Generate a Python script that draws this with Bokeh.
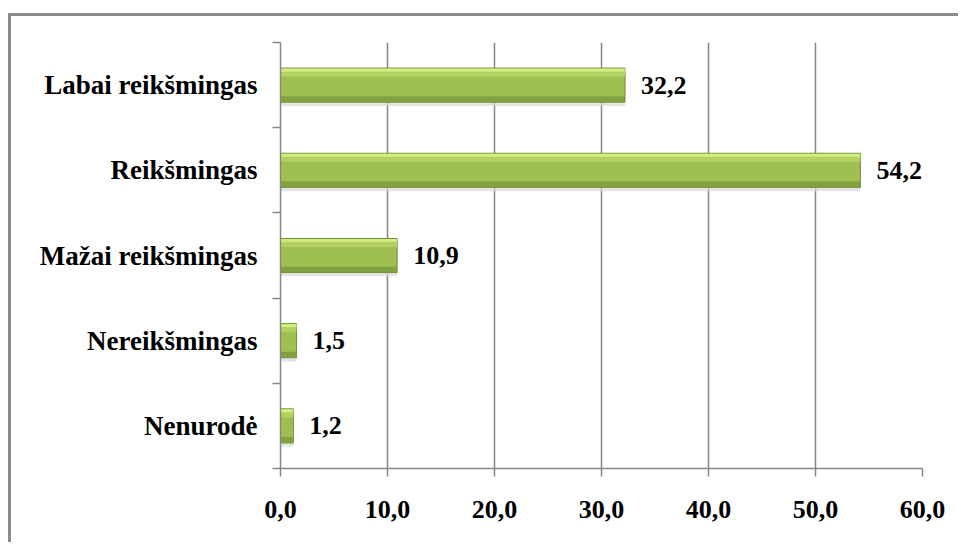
from bokeh.plotting import figure
from bokeh.models import FixedTicker, Range1d, ColumnDataSource, LabelSet
from bokeh.embed import file_html
from bokeh.resources import INLINE
from bokeh.core.properties import value

categories = ["Nenurodė", "Nereikšmingas", "Mažai reikšmingas", "Reikšmingas", "Labai reikšmingas"]
values = [1.2, 1.5, 10.9, 54.2, 32.2]
x_ticks = [0, 10, 20, 30, 40, 50, 60]
x_tick_labels = ["0,0", "10,0", "20,0", "30,0", "40,0", "50,0", "60,0"]

ypos = [i + 0.5 for i in range(len(categories))]
labels = [f"{v:.1f}".replace(".", ",") for v in values]
src = ColumnDataSource(dict(y=ypos, v=values, lab=labels,
                            y_top=[y + 0.175 for y in ypos],
                            y_hi=[y + 0.13 for y in ypos],
                            y_lo=[y - 0.165 for y in ypos],
                            y_sh=[y - 0.22 for y in ypos]))

GREY = "#868686"
FONT = "Liberation Serif"

p = figure(width=950, height=529, output_backend="svg", toolbar_location=None,
           x_range=Range1d(0, 60), y_range=Range1d(0, 5),
           min_border_left=269, min_border_right=39, min_border_top=26, min_border_bottom=77)
p.styles = {"border-left": "3px solid #8c8c8c", "border-top": "3px solid #8c8c8c",
            "margin-top": "13px", "margin-left": "8px"}
p.outline_line_color = None
p.background_fill_color = "white"
p.border_fill_color = "white"

# grid
p.xgrid.ticker = FixedTicker(ticks=x_ticks)
p.xgrid.grid_line_color = GREY
p.xgrid.grid_line_width = 1.5
p.ygrid.grid_line_color = None

# shadow
p.hbar(y="y_sh", right="v", left=0, height=0.05, source=src, fill_color="#d8d8d8",
       line_color=None, fill_alpha=0.7)
# main bar
p.hbar(y="y", right="v", left=0, height=0.4, source=src, fill_color="#9fc051",
       line_color="#6f8c34", line_width=1)
# highlight and dark strips
p.hbar(y="y_top", right="v", left=0, height=0.04, source=src, fill_color="#d6ef86",
       line_color=None, fill_alpha=0.95)
p.hbar(y="y_hi", right="v", left=0, height=0.06, source=src, fill_color="#b4d460",
       line_color=None, fill_alpha=0.9)
p.hbar(y="y_lo", right="v", left=0, height=0.07, source=src, fill_color="#7e9d3e",
       line_color=None, fill_alpha=0.9)

labs = LabelSet(x="v", y="y", text="lab", source=src, x_offset=16,
                text_align="left", text_baseline="middle",
                text_font=value(FONT), text_font_style="bold", text_font_size="26px",
                text_color="black")
p.add_layout(labs)

# x axis
xa = p.xaxis[0]
xa.ticker = FixedTicker(ticks=x_ticks)
xa.major_label_overrides = {t: l for t, l in zip(x_ticks, x_tick_labels)}
xa.axis_line_color = GREY
xa.axis_line_width = 1.5
xa.major_tick_line_color = GREY
xa.major_tick_line_width = 1.5
xa.major_tick_out = 8
xa.major_tick_in = 0
xa.minor_tick_line_color = None
xa.major_label_text_font = FONT
xa.major_label_text_font_style = "bold"
xa.major_label_text_font_size = "26px"
xa.major_label_text_color = "black"
xa.major_label_standoff = 24

# y axis
ya = p.yaxis[0]
ya.ticker = FixedTicker(ticks=ypos, minor_ticks=[0, 1, 2, 3, 4, 5])
ya.major_label_overrides = {y: c for y, c in zip(ypos, categories)}
ya.axis_line_color = GREY
ya.axis_line_width = 1.5
ya.major_tick_line_color = None
ya.minor_tick_line_color = GREY
ya.minor_tick_line_width = 1.5
ya.minor_tick_out = 8
ya.minor_tick_in = 0
ya.major_label_text_font = FONT
ya.major_label_text_font_style = "bold"
ya.major_label_text_font_size = "27px"
ya.major_label_text_color = "black"
ya.major_label_standoff = 15

open("out.html", "w").write(file_html(p, INLINE))
